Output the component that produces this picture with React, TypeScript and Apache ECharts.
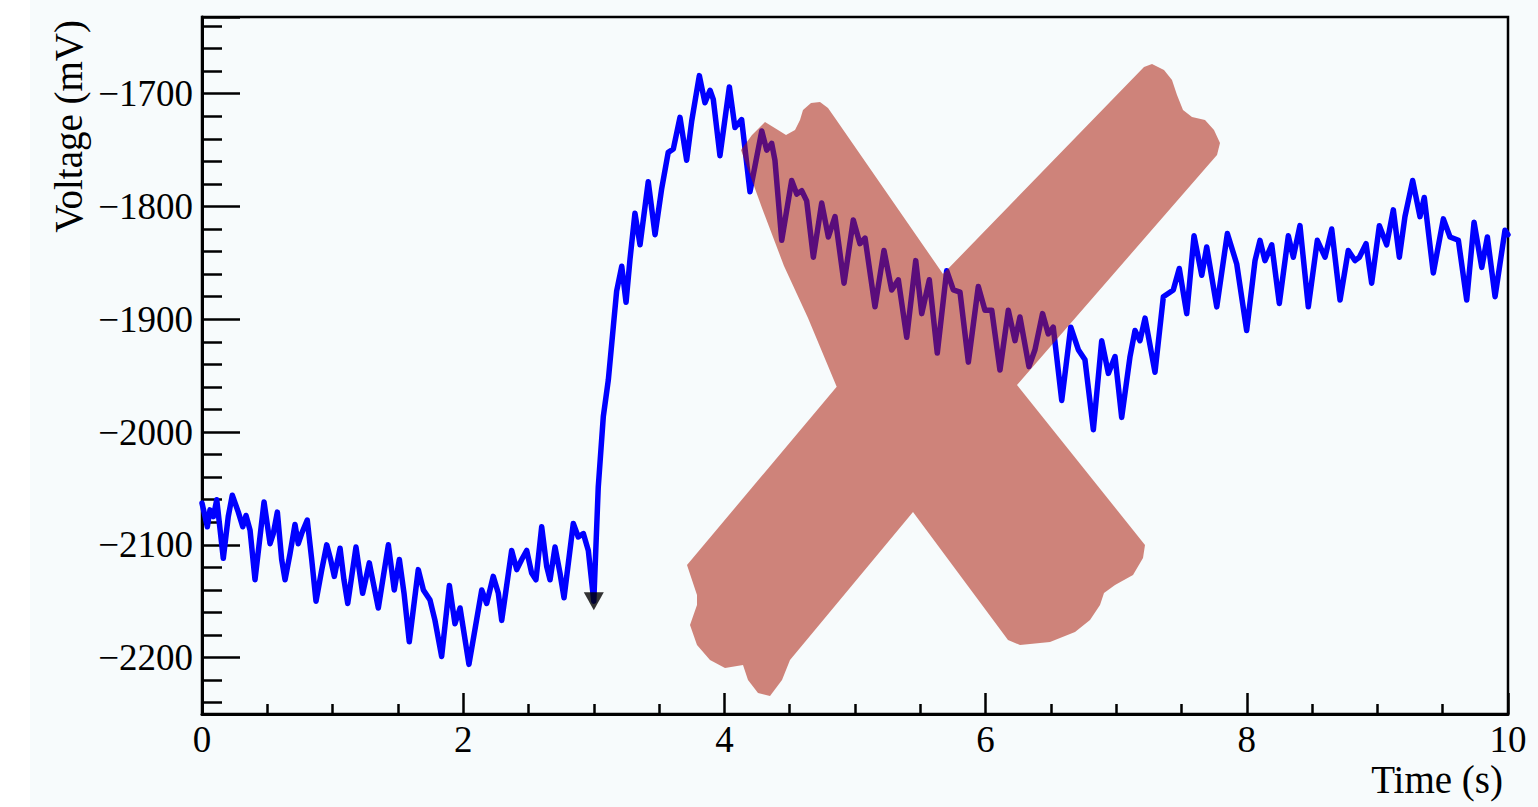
import { useEffect, useRef } from "react";
import * as echarts from "echarts";

// Time (s)
const timeS = [
  0.000, 0.041, 0.061, 0.087, 0.113, 0.163, 0.201, 0.232, 0.278, 0.312,
  0.337, 0.368, 0.406, 0.444, 0.475, 0.521, 0.546, 0.577, 0.610, 0.636,
  0.674, 0.712, 0.737, 0.763, 0.806, 0.840, 0.873, 0.917, 0.955, 0.985,
  1.013, 1.057, 1.087, 1.116, 1.179, 1.230, 1.281, 1.312, 1.350, 1.427,
  1.472, 1.511, 1.547, 1.587, 1.656, 1.695, 1.746, 1.784, 1.835, 1.894,
  1.937, 1.976, 2.044, 2.090, 2.142, 2.180, 2.230, 2.269, 2.295, 2.371,
  2.410, 2.448, 2.486, 2.524, 2.557, 2.601, 2.639, 2.665, 2.703, 2.741,
  2.772, 2.843, 2.881, 2.920, 2.958, 3.000, 3.034, 3.073, 3.111, 3.149,
  3.175, 3.214, 3.247, 3.277, 3.315, 3.354, 3.417, 3.469, 3.520, 3.570,
  3.609, 3.660, 3.711, 3.750, 3.808, 3.851, 3.890, 3.915, 3.966, 4.038,
  4.081, 4.132, 4.196, 4.286, 4.324, 4.362, 4.387, 4.439, 4.515, 4.554,
  4.592, 4.630, 4.681, 4.745, 4.796, 4.847, 4.916, 4.987, 5.038, 5.077,
  5.153, 5.222, 5.281, 5.332, 5.396, 5.465, 5.511, 5.569, 5.630, 5.702,
  5.753, 5.804, 5.868, 5.944, 5.995, 6.047, 6.110, 6.174, 6.225, 6.263,
  6.332, 6.378, 6.436, 6.480, 6.518, 6.583, 6.652, 6.710, 6.761, 6.825,
  6.889, 6.940, 6.991, 7.042, 7.106, 7.144, 7.182, 7.221, 7.297, 7.361,
  7.437, 7.483, 7.540, 7.596, 7.655, 7.693, 7.770, 7.851, 7.923, 7.999,
  8.063, 8.101, 8.139, 8.191, 8.249, 8.318, 8.356, 8.407, 8.471, 8.540,
  8.599, 8.650, 8.714, 8.777, 8.828, 8.862, 8.913, 8.956, 9.015, 9.071,
  9.122, 9.168, 9.211, 9.270, 9.326, 9.359, 9.428, 9.505, 9.556, 9.620,
  9.684, 9.740, 9.799, 9.842, 9.901, 9.977, 10.000,
];

// Voltage (mV)
const voltageMV = [
  -2063, -2084, -2069, -2075, -2060, -2112, -2075, -2056, -2071, -2084,
  -2074, -2087, -2131, -2093, -2062, -2099, -2090, -2071, -2113, -2131,
  -2108, -2082, -2099, -2090, -2078, -2113, -2150, -2122, -2100, -2113,
  -2128, -2103, -2131, -2152, -2102, -2143, -2116, -2134, -2156, -2100,
  -2140, -2113, -2143, -2186, -2122, -2140, -2149, -2167, -2199, -2136,
  -2170, -2156, -2206, -2175, -2140, -2152, -2128, -2143, -2167, -2105,
  -2122, -2113, -2105, -2125, -2131, -2084, -2119, -2131, -2102, -2125,
  -2147, -2081, -2093, -2090, -2105, -2150, -2049, -1986, -1954, -1907,
  -1875, -1853, -1885, -1847, -1806, -1834, -1778, -1825, -1784, -1752,
  -1749, -1721, -1759, -1724, -1684, -1708, -1697, -1705, -1755, -1694,
  -1730, -1723, -1787, -1733, -1750, -1744, -1759, -1830, -1777, -1789,
  -1786, -1795, -1845, -1797, -1827, -1809, -1868, -1812, -1833, -1828,
  -1889, -1839, -1874, -1865, -1916, -1848, -1895, -1865, -1930, -1857,
  -1874, -1876, -1938, -1871, -1892, -1892, -1945, -1892, -1919, -1898,
  -1942, -1927, -1895, -1913, -1907, -1972, -1907, -1927, -1936, -1998,
  -1919, -1948, -1933, -1987, -1933, -1910, -1919, -1899, -1947, -1880,
  -1874, -1855, -1895, -1826, -1861, -1836, -1889, -1824, -1851, -1910,
  -1848, -1830, -1848, -1834, -1886, -1826, -1845, -1817, -1889, -1830,
  -1845, -1820, -1883, -1839, -1848, -1845, -1833, -1868, -1817, -1834,
  -1803, -1845, -1809, -1777, -1809, -1792, -1859, -1811, -1827, -1830,
  -1883, -1814, -1854, -1827, -1880, -1821, -1825,
];

// Stimulus marker
const markerTime = [3.0];
const markerVoltage = [-2150];

// Axis ranges
const xRange = [0, 10];
const yRange = [-2250, -1632];

// Overlay "X" outline (page pixels)
const crossOutline: number[][] = [
  [741, 150], [752, 135], [765, 122], [778, 130], [786, 135], [795, 130], [800, 120],
  [803, 110], [811, 103], [820, 102], [828, 108], [835, 118], [943, 274],
  [1144, 67], [1152, 64], [1164, 70], [1172, 80], [1177, 95], [1183, 110], [1192, 117],
  [1205, 120], [1214, 130], [1220, 143], [1217, 155], [1210, 163], [1017, 385],
  [1145, 545], [1143, 558], [1133, 575], [1115, 585], [1104, 593], [1100, 605],
  [1090, 620], [1075, 632], [1050, 642], [1020, 645], [1008, 640], [913, 512],
  [790, 660], [782, 680], [770, 696], [758, 693], [748, 680], [743, 665], [725, 668],
  [710, 660], [697, 645], [690, 625], [697, 605], [697, 595], [687, 565],
  [836.7, 386.7], [808, 318], [784, 266], [762, 208],
];

export default function App() {
  const ref = useRef<HTMLDivElement>(null);
  useEffect(() => {
    const chart = echarts.init(ref.current!, null, { renderer: "svg" });
    const serif = "'Liberation Serif', 'Times New Roman', serif";
    const minus = (v: number) => (v < 0 ? "\u2212" + Math.abs(v) : String(v));
    chart.setOption({
      animation: false,
      backgroundColor: "transparent",
      grid: {
        left: 202,
        right: 30,
        top: 17,
        bottom: 93,
        show: true,
        borderColor: "#000",
        borderWidth: 2.5,
        backgroundColor: "transparent",
      },
      xAxis: {
        type: "value",
        min: xRange[0],
        max: xRange[1],
        interval: 2,
        axisLine: { show: true, onZero: false, lineStyle: { color: "#000", width: 3 } },
        axisTick: { show: true, inside: true, length: 21, lineStyle: { color: "#000", width: 2.5 } },
        minorTick: { show: true, splitNumber: 4, length: 10, lineStyle: { color: "#000", width: 2.5 } },
        splitLine: { show: false },
        axisLabel: { color: "#000", fontFamily: serif, fontSize: 37, margin: 7 },
      },
      yAxis: {
        type: "value",
        min: yRange[0],
        max: yRange[1],
        axisLine: { show: true, onZero: false, lineStyle: { color: "#000", width: 3 } },
        axisTick: { show: true, inside: true, length: 38, lineStyle: { color: "#000", width: 2.5 } },
        minorTick: { show: true, splitNumber: 5, length: 20, lineStyle: { color: "#000", width: 2.5 } },
        splitLine: { show: false },
        axisLabel: {
          color: "#000",
          fontFamily: serif,
          fontSize: 37,
          margin: 9,
          showMinLabel: false,
          showMaxLabel: false,
          formatter: minus,
        },
      },
      series: [
        {
          type: "line",
          data: timeS.map((t, i) => [t, voltageMV[i]]),
          showSymbol: false,
          symbol: "none",
          lineStyle: { color: "#0000ff", width: 5.5, join: "round", cap: "round" },
          z: 2,
        },
        {
          type: "scatter",
          data: markerTime.map((t, i) => [t, markerVoltage[i]]),
          symbol: "triangle",
          symbolRotate: 180,
          symbolSize: [20, 18],
          itemStyle: { color: "#000" },
          z: 3,
        },
      ],
      graphic: [
        {
          type: "polygon",
          shape: { points: crossOutline },
          style: { fill: "rgba(170,25,5,0.53)" },
          z: 100,
          silent: true,
        },
        {
          type: "text",
          x: 68.5,
          y: 20,
          rotation: Math.PI / 2,
          style: {
            text: "Voltage (mV)",
            fill: "#000",
            font: `39px ${serif}`,
            align: "right",
            verticalAlign: "middle",
          },
          z: 50,
        },
        {
          type: "text",
          x: 1503,
          y: 779,
          style: {
            text: "Time (s)",
            fill: "#000",
            font: `39px ${serif}`,
            align: "right",
            verticalAlign: "middle",
          },
          z: 50,
        },
      ],
    });
    return () => chart.dispose();
  }, []);
  return (
    <div
      ref={ref}
      style={{
        position: "absolute",
        left: 0,
        top: 0,
        width: 1538,
        height: 807,
        background: "linear-gradient(to right, #ffffff 30px, #f7fbfc 30px)",
      }}
    />
  );
}
